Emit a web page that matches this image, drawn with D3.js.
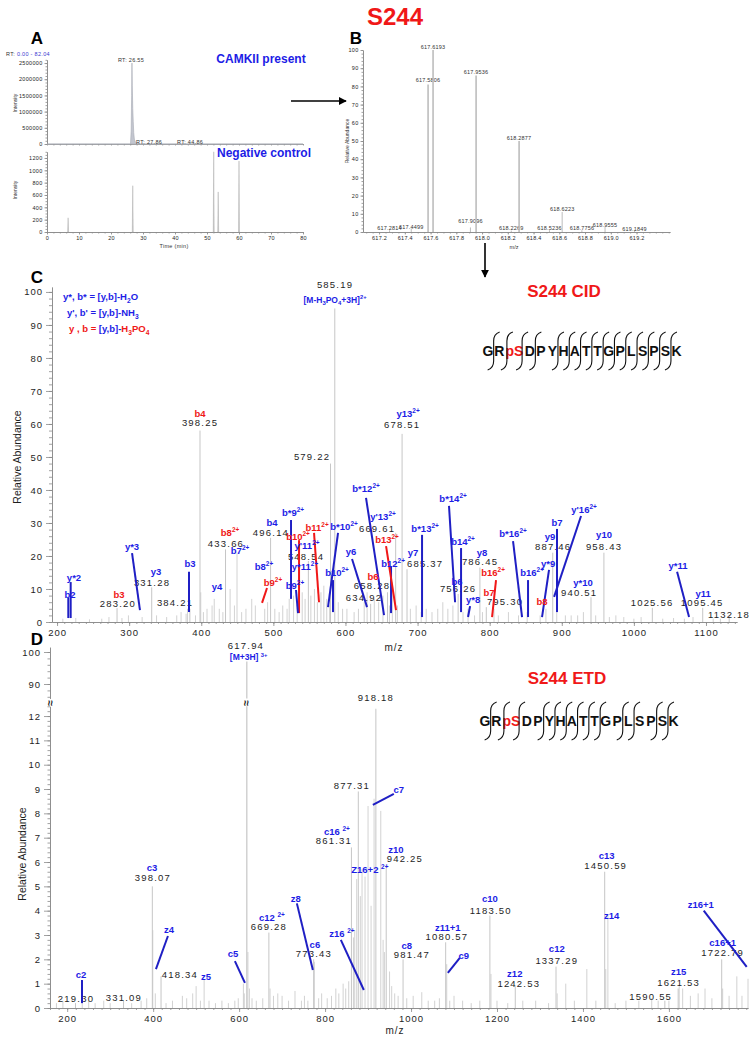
<!DOCTYPE html>
<html><head><meta charset="utf-8">
<script src="https://cdn.jsdelivr.net/npm/d3@7"></script>
<style>body{margin:0;background:#fff}svg{display:block}text{font-family:Arial,"Liberation Sans",Helvetica,sans-serif}</style>
</head><body><svg id="c" width="756" height="1040"></svg>
<script>
// ================= DATA =================
// Panel A – chromatograms
const chromTopTime=[0,25.8,26.1,26.3,26.45,26.55,26.65,26.8,26.95,27.1,27.3,27.6,27.86,28.3,44.86,80];
const chromTopInt=[0,0,20000,400000,1500000,2500000,1800000,1100000,700000,350000,150000,60000,40000,0,0,0];
const chromTopTicks=[0,500000,1000000,1500000,2000000,2500000];
const chromCtrlTime=[6.6,26.8,52.1,53.5,60.0];
const chromCtrlInt=[230,750,1300,650,1150];
const chromCtrlTicks=[0,200,400,600,800,1000,1200];
const timeTicks=[0,10,20,30,40,50,60,70,80];
const rtLabelText=["RT: 26.55","RT: 27.86","RT: 44.86"];
const rtLabelTime=[26.25,31.9,44.7];
const rtLabelInt=[2590000,60000,60000];
// Panel B – isotope envelope
const msMz=[617.2814,617.4499,617.5806,617.6193,617.9096,617.9536,618.2269,618.2877,618.5236,618.6223,618.7756,618.9555,619.1849];
const msInt=[1,2,81,100,2.5,86,0.8,50,1,11,1,3,1];
const msLabelInt=[2.2,2.7,83.5,101.6,6,87.9,2.2,51.6,2.2,12.6,2.2,3.8,1.7];
const msTicksX=[617.2,617.4,617.6,617.8,618.0,618.2,618.4,618.6,618.8,619.0,619.2];
const abTicks=[0,10,20,30,40,50,60,70,80,90,100];
// Panel C – CID spectrum, labelled peaks
const cidPeakText=["585.19","398.25","579.22","678.51","669.61","433.66","496.14","548.54","331.28","283.20","384.21","658.28","634.92","685.37","786.45","756.26","795.30","887.46","958.43","940.51","1025.56","1095.45","1132.18"];
const cidPeakMz=[585.19,398.25,579.22,678.51,669.61,433.66,496.14,548.54,331.28,283.20,384.21,658.28,634.92,685.37,786.45,756.26,795.30,887.46,958.43,940.51,1025.56,1095.45,1132.18];
const cidPeakInt=[95,58,48,57,27,22,25.5,18.5,10.5,4.2,4,9,5.5,16,16.5,8.5,4.5,21,21,7.5,4.3,4.3,1.8];
const cidPeakLabelMz=[585.5,398.3,553.6,678.5,643.8,434.3,496.7,545.3,331.7,284.5,363.6,636.8,625.7,710.4,786.6,756.1,821.3,887.9,958.6,924,1025.2,1094.6,1132];
const cidPeakLabelInt=[102.1,60.3,50,59.7,28.2,23.6,27,19.7,12,5.5,5.8,11,7.3,17.6,18.2,10,6.1,22.7,22.7,8.8,5.8,5.8,2.1];
// Panel C – minor peaks [m/z, %]
const cidMinorMz=[208,226,245,262,272,290,299,318,338,352,366,372,379,381,392,399.3,403,408,415,418,425,430,440,446,449.6,456,462,470,475,488,492,502,508,513,519,522,528,533,540,544,552,557,561,566,570,574,578,590,596,602,612,618,626,630,640,646,652,661,665,672,690,698,705,712,720,728,735,742,749,763,770,779,790,806,812,826,840,852,870,878,893,905,913,922,930,947,966,975,986,1000,1010,1040,1055,1070,1082,1110,1120];
const cidMinorInt=[1,1.2,0.8,1,1.5,1.2,2,1.5,2,1.5,2,3,2.5,4,2,9,3,4,5,7,4,3,10,5,21,3,4,7,5,4,6,4,3,5,4,7,8,6,9,7,8,10,6,9,11,7,5,6,4,4,3,4,6,9,7,6,8,5,12,5,4,5,3,4,3,4,6,4,5,3,4,2,3,4,2,3,2,3,2,4,3,2,2,2,3,2,1.5,2,1.5,1,1.5,1,1.2,1,1.5,1,1];
// Panel C – fragment ion labels (kind "p" = H3PO4 loss, red)
const cidIonText=["y*2","b2","y*3","y3","b3","b3","y4","b4","b8^2+","b4","b7^2+","b8^2+","b9^2+","b*9^2+","b10^2+","b11^2+","y'11^2+","y*11^2+","b9^2+","b*10^2+","b10^2+","y6","b6","b*12^2+","y'13^2+","b12^2+","b13^2+","y7","b*13^2+","b*14^2+","b14^2+","b6","y8","y*8","b16^2+","b7","b*16^2+","b16^2+","y*9","b8","b7","y9","y'16^2+","y10","y*10","y*11","y11","y13^2+"];
const cidIonKind=["n","n","n","n","p","n","n","p","p","n","n","n","p","n","p","p","n","n","n","n","n","n","p","n","n","n","p","n","n","n","n","n","n","n","p","p","n","n","n","p","n","n","n","n","n","n","n","n"];
const cidIonMz=[223.5,218,304,337.2,285.9,384.4,421.9,398.3,439.9,498.1,453.8,487,499.5,527.3,534.2,560.6,546.7,543.9,530,598,588.3,607.7,638.2,628.5,652.1,666,657.6,693.7,710.4,749.2,763,754.7,789.4,777,804.7,799.1,832.4,858.8,881,872.6,893.4,883.7,930.9,958.6,929.5,1061.3,1096,686.8];
const cidIonInt=[13.3,8.2,22.7,15.2,8.2,17.6,10.6,63,27,30,21.5,16.7,11.8,33,26,28.5,23,16.7,10.9,29,14.8,21.2,13.6,40.3,31.8,17.6,24.8,20.9,28.2,37.3,24.2,12.1,20.9,6.7,14.8,8.8,26.7,14.8,17.6,6.1,30,25.8,33.9,26.4,11.8,17,8.5,63];
// Panel C – leader lines
const cidLineMz1=[218.9,215.6,304,383,491.2,524.5,535.6,556.4,531.4,589.7,582.7,609.1,628.5,663.2,656.3,706.2,743.6,760.3,772.8,808.8,832.4,853.2,882.3,893.4,926.7,1059.9];
const cidLineInt1=[12.1,7.3,20.9,15.2,10.3,30.9,24.8,27,9.7,27,12.7,19.1,37.6,16.7,23,26.4,35.2,22.4,4.8,12.7,24.5,12.7,15.8,28.2,32.1,15.2];
const cidLineMz2=[218.9,215.6,315,383,484.3,524.5,535.6,563.3,534.2,575.8,582.7,629.9,653.5,663.2,670.1,706.2,752,760.3,770,803.3,844.9,853.2,872.6,893.4,889.3,1076.5];
const cidLineInt2=[1.2,1.2,3.6,3.0,5.8,7,2.7,6,2.7,4.5,3,4.5,2.1,2.7,3.6,1.5,6,3,1.5,1.5,1.5,1.5,1.5,3,7.6,1.5];
const cidLineKind=["n","n","n","n","p","n","p","p","n","n","n","n","n","n","p","n","n","n","n","p","n","n","n","n","n","n"];
const cidTicksX=[200,300,400,500,600,700,800,900,1000,1100];
// Panel D – ETD spectrum, labelled peaks
const etdPeakText=["918.18","877.31","861.31","942.25","398.07","669.28","773.43","418.34","331.09","219.30","981.47","1080.57","1183.50","1337.29","1242.53","1450.59","1621.53","1590.55","1722.79"];
const etdPeakMz=[918.18,877.31,861.31,942.25,398.07,669.28,773.43,418.34,331.09,219.30,981.47,1080.57,1183.50,1337.29,1242.53,1450.59,1621.53,1590.55,1722.79];
const etdPeakInt=[12.3,8.9,6.6,5.9,5.0,3.1,2.0,1.3,0.3,0.2,2.0,2.7,3.8,1.7,0.9,5.6,0.8,0.3,2.0];
const etdPeakLabelMz=[918.1,862.3,820.5,985.6,399.5,669.3,774,462.3,332.1,220.5,1001.9,1083.3,1185.6,1339.1,1250.7,1453,1622.8,1557.7,1725.1];
const etdPeakLabelInt=[12.76,9.14,6.87,6.13,5.35,3.33,2.22,1.36,0.41,0.37,2.18,2.92,3.99,1.93,0.99,5.84,1.03,0.45,2.26];
const etdPrecursorMz=617.94, etdPrecursorInt=97, etdPrecursorLabelMz=616, etdPrecursorLabelInt=101.9;
// Panel D – minor peaks
const etdMinorMz=[175,190,235,250,265,285,300,350,372,385,399.1,405,430,445,468,478,492,500,510,518.6,530,545,560,575,590,598,610,612,620.5,624,630,640,655,672,680,690,700,715,730,745,752,760,775,785,792,805,815,825,832,842,848,855,866,869,873.6,882,886,893,900,907,914,929.6,935,938,950,955,962,970,990,1005,1025,1040,1055,1066,1083,1090,1100,1120,1140,1160,1186,1200,1225,1260,1290,1320,1340,1360,1380,1409,1430,1453,1458,1475,1500,1530,1560,1575,1600,1624,1632,1650,1668,1684,1700,1725,1740,1758,1770,1784];
const etdMinorInt=[0.2,0.3,0.2,0.3,0.2,0.3,0.2,0.2,0.3,0.4,3.2,0.6,0.2,0.3,0.5,0.4,0.6,0.9,0.3,1.15,0.3,0.2,0.3,0.2,0.3,0.4,1.0,0.6,2.3,0.8,0.4,0.3,0.4,0.8,0.5,0.6,0.5,0.3,0.7,0.3,0.5,0.3,1.9,0.4,0.6,0.4,0.5,0.8,0.6,1.0,0.8,1.1,2.9,3.2,5.3,4.6,5.7,5.4,8.3,4.2,8.6,8.1,2.8,2.3,1.5,0.9,0.6,0.5,0.4,0.5,0.65,0.3,0.3,0.4,1.8,0.3,0.5,0.3,0.2,0.3,1.4,0.3,0.2,0.3,0.3,0.2,0.6,1.0,0.3,1.6,0.3,1.6,3.8,0.2,0.3,0.3,0.4,0.3,0.3,0.9,0.8,0.5,0.6,0.8,0.4,0.8,0.5,1.3,0.5,1.2];
// Panel D – fragment ion labels
const etdIonText=["c2","c3","z4","z5","c5","c12 ^2+","z8","c6","c16 ^2+","z16 ^2+","Z16+2 ^2+","c7","z10","c8","z11+1","c9","c10","z12","c12","c13","z14","z15","z16+1","c16+1"];
const etdIonMz=[232.1,397.2,436.7,522.8,585.6,676.3,732.1,776.3,827.4,839.1,904.2,971.6,964.7,990.2,1085.6,1122.8,1183.3,1241.4,1339.1,1455.3,1467,1622.8,1674,1725.1];
const etdIonInt=[1.36,5.76,3.2,1.28,2.22,3.7,4.5,2.6,7.24,3.05,5.68,8.97,6.5,2.55,3.3,2.14,4.49,1.4,2.43,6.26,3.79,1.48,4.24,2.67];
const etdLineMz1=[234.4,434.4,590.2,734.4,836.7,960,1113.5,1681];
const etdLineInt1=[1.15,2.96,1.93,4.3,2.8,8.8,2.06,4.0];
const etdLineMz2=[234.4,406.5,613.5,771.6,890.2,911.2,1085.6,1781];
const etdLineInt2=[0.2,1.6,1.03,1.56,0.74,8.35,1.44,1.69];
const etdTicksX=[200,400,600,800,1000,1200,1400,1600];
const etdTicksLow=[0,1,2,3,4,5,6,7,8,9,10,11,12];
const etdTicksHigh=[90,100];
// Peptide
const peptide=["G","R","pS","D","P","Y","H","A","T","T","G","P","L","S","P","S","K"];
const cidCleave=[0,1,2,3,5,6,7,8,9,10,11,12,13,14,15];
const etdCleave=[0,1,2,4,5,6,7,8,9,11,12,14,15];

// ================= DRAWING =================
const BLUE="#1d1de6", RED="#f01818", GREY="#c6c6c6", AX="#8a8a8a", TXT="#1e1e1e";
const FONT='Arial,"Liberation Sans",Helvetica,sans-serif';
const fmtInt=d3.format("d");
const svg=d3.select("#c");
svg.append("rect").attr("width",756).attr("height",1040).attr("fill","#fff");
const defs=svg.append("defs");
defs.append("marker").attr("id","ah").attr("viewBox","0 0 10 10").attr("refX",9).attr("refY",5)
  .attr("markerWidth",5).attr("markerHeight",5).attr("orient","auto")
  .append("path").attr("d","M0,0L10,5L0,10z").attr("fill","#000");

function rich(g,x,y,spec,o){
  const segs=typeof spec==="string"?[[spec,o.fill]]:spec;
  const t=g.append("text").attr("x",x).attr("y",y).attr("font-size",o.size)
    .attr("font-weight",o.weight||"normal").attr("text-anchor",o.anchor||"middle")
    .attr("dy","0.35em").attr("fill",o.fill||TXT).attr("font-family",FONT);
  if(o.ls) t.attr("letter-spacing",o.ls);
  if(o.rotate) t.attr("transform",`rotate(${o.rotate},${x},${y})`);
  let cur=0;
  segs.forEach(([s,fill])=>{
    let i=0,buf="";
    const emit=(txt,off,sz)=>{ if(!txt) return; const ts=t.append("tspan").text(txt).attr("fill",fill||o.fill||TXT);
      if(off!==cur){ts.attr("dy",off-cur);cur=off;} if(sz) ts.attr("font-size",sz); };
    while(i<s.length){const c=s[i];
      if(c==="_"){emit(buf,0);buf="";emit(s[i+1],o.size*0.3,o.size*0.7);i+=2;}
      else if(c==="^"){emit(buf,0);buf="";emit(s.slice(i+1),-o.size*0.42,o.size*0.68);i=s.length;}
      else{buf+=c;i++;}}
    emit(buf,0);
  });
  return t;
}
function styleAxis(g,size,ls){
  g.attr("font-family",FONT).attr("font-size",size);
  g.selectAll("path,line").attr("stroke",AX).attr("stroke-width",0.8);
  g.selectAll("text").attr("fill",TXT);
  if(ls) g.selectAll("text").attr("letter-spacing",ls);
}
function seg(g,x1,y1,x2,y2,color,w){
  g.append("line").attr("x1",x1).attr("y1",y1).attr("x2",x2).attr("y2",y2)
   .attr("stroke",color).attr("stroke-width",w).attr("stroke-linecap","butt");
}

// ---------- Panel A ----------
const xA=d3.scaleLinear().domain([0,80]).range([47,303]);
const yA1=d3.scaleLinear().domain([0,2600000]).range([144,59.8]);
const yA2=d3.scaleLinear().domain([0,1300]).range([232,151.8]);
const gA=svg.append("g");
[[yA1,chromTopTicks,100000,2600000],[yA2,chromCtrlTicks,50,1300]].forEach(([ys,tk,step,mx])=>{
  const mi=gA.append("g").attr("transform",`translate(${xA(0)},0)`).call(d3.axisLeft(ys).tickValues(d3.range(0,mx+1,step)).tickFormat("").tickSize(1.5).tickSizeOuter(0));
  styleAxis(mi,5.5);
  const ma=gA.append("g").attr("transform",`translate(${xA(0)},0)`).call(d3.axisLeft(ys).tickValues(tk).tickFormat(fmtInt).tickSize(2.5).tickSizeOuter(0).tickPadding(2));
  styleAxis(ma,5.5,0.3);
});
const xAt=gA.append("g").attr("transform",`translate(0,${yA1(0)})`).call(d3.axisBottom(xA).tickValues(d3.range(0,81,2)).tickFormat("").tickSize(1.5).tickSizeOuter(0));
styleAxis(xAt,5.5);
const xAbm=gA.append("g").attr("transform",`translate(0,${yA2(0)})`).call(d3.axisBottom(xA).tickValues(d3.range(0,81,2)).tickFormat("").tickSize(1.5).tickSizeOuter(0));
styleAxis(xAbm,5.5);
const xAb=gA.append("g").attr("transform",`translate(0,${yA2(0)})`).call(d3.axisBottom(xA).tickValues(timeTicks).tickFormat(fmtInt).tickSize(2.5).tickSizeOuter(0).tickPadding(2));
styleAxis(xAb,5.5,0.3);
const topPts=chromTopTime.map((t,i)=>[t,chromTopInt[i]]);
gA.append("path").datum(topPts).attr("fill","#c3c6cf").attr("stroke","#a6a9b4").attr("stroke-width",0.6)
  .attr("d",d3.area().x(d=>xA(d[0])).y0(yA1(0)).y1(d=>yA1(d[1])));
chromCtrlTime.forEach((t,i)=>{
  gA.append("path").attr("fill","#c4c4c4").attr("stroke","#b0b0b0").attr("stroke-width",0.5)
   .attr("d",`M${xA(t-0.15)},${yA2(0)}L${xA(t)},${yA2(chromCtrlInt[i])}L${xA(t+0.15)},${yA2(0)}Z`);
});
rtLabelText.forEach((s,i)=>rich(gA,xA(rtLabelTime[i]),yA1(rtLabelInt[i]),s,{size:5.5,ls:0.3,fill:"#333"}));
rich(gA,6,54,[["RT: ","#333"],["0.00 - 82.04","#3a3ad0"]],{size:5.5,anchor:"start",ls:0.3});
rich(gA,15,103,"Intensity",{size:5,rotate:-90,fill:"#333"});
rich(gA,15,190,"Intensity",{size:5,rotate:-90,fill:"#333"});
rich(gA,174,246,"Time (min)",{size:5.5,fill:"#333",ls:0.3});
rich(gA,37,38,"A",{size:17,weight:"bold",fill:"#000"});
rich(gA,261,59,"CAMKII present",{size:12,weight:"bold",fill:BLUE});
rich(gA,264,153,"Negative control",{size:12,weight:"bold",fill:BLUE});
// arrow A -> B
svg.append("line").attr("x1",291).attr("y1",101).attr("x2",346).attr("y2",101).attr("stroke","#000").attr("stroke-width",1.6).attr("marker-end","url(#ah)");

// ---------- Panel B ----------
const xB=d3.scaleLinear().domain([617.075,619.46]).range([363,670]);
const yB=d3.scaleLinear().domain([0,100]).range([232,50]);
const gB=svg.append("g");
const bmi=gB.append("g").attr("transform",`translate(${xB.range()[0]},0)`).call(d3.axisLeft(yB).tickValues(d3.range(0,101,2)).tickFormat("").tickSize(1.5).tickSizeOuter(0));
styleAxis(bmi,5.5);
const bma=gB.append("g").attr("transform",`translate(${xB.range()[0]},0)`).call(d3.axisLeft(yB).tickValues(abTicks).tickFormat(fmtInt).tickSize(2.5).tickSizeOuter(0).tickPadding(2));
styleAxis(bma,5.5,0.3);
const bxm=gB.append("g").attr("transform",`translate(0,${yB(0)})`).call(d3.axisBottom(xB).tickValues(d3.range(617.1,619.46,0.05)).tickFormat("").tickSize(1.5).tickSizeOuter(0));
styleAxis(bxm,5.5);
const bx=gB.append("g").attr("transform",`translate(0,${yB(0)})`).call(d3.axisBottom(xB).tickValues(msTicksX).tickFormat(d3.format(".1f")).tickSize(2.5).tickSizeOuter(0).tickPadding(2));
styleAxis(bx,5.5,0.3);
msMz.forEach((m,i)=>{
  seg(gB,xB(m),yB(0),xB(m),yB(msInt[i]),"#bdbdbd",msInt[i]>40?1.6:1);
  rich(gB,xB(m),yB(msLabelInt[i]),m.toFixed(4),{size:5.5,fill:"#333",ls:0.2});
});
rich(gB,514,247,"m/z",{size:5.5,fill:"#333"});
rich(gB,347,141,"Relative Abundance",{size:5,rotate:-90,fill:"#333"});
rich(gB,356,38,"B",{size:17,weight:"bold",fill:"#000"});
rich(svg,395,17,"S244",{size:24,weight:"bold",fill:RED});
// arrow B -> C
svg.append("line").attr("x1",485).attr("y1",243).attr("x2",485).attr("y2",277).attr("stroke","#000").attr("stroke-width",1.6).attr("marker-end","url(#ah)");

// ---------- Peptide drawing ----------
function peptideDraw(g,x0,yc,cleave){
  const xs=[];let x=x0;
  peptide.forEach((r,i)=>{ if(i>0){ x+= (r==="pS"||peptide[i-1]==="pS")?15.2:11.3; } xs.push(x); });
  peptide.forEach((r,i)=>rich(g,xs[i],yc,r,{size:14,weight:"bold",fill:r==="pS"?RED:"#111"}));
  cleave.forEach(k=>{
    const bx=(xs[k]+xs[k+1])/2;
    g.append("path").attr("fill","none").attr("stroke","#111").attr("stroke-width",1.1)
     .attr("d",`M${bx+6},${yc-19}Q${bx},${yc-17} ${bx},${yc-10}L${bx},${yc+10}Q${bx},${yc+17} ${bx-6},${yc+19}`);
  });
}

// ---------- Panel C ----------
const xC=d3.scaleLinear().domain([193,1143]).range([52,737]);
const yC=d3.scaleLinear().domain([0,101.5]).range([622,287]);
const gC=svg.append("g");
const cym=gC.append("g").attr("transform",`translate(${xC(193)},0)`).call(d3.axisLeft(yC).tickValues(d3.range(0,101,2)).tickFormat("").tickSize(3).tickSizeOuter(0));
styleAxis(cym,9.5);
const cy=gC.append("g").attr("transform",`translate(${xC(193)},0)`).call(d3.axisLeft(yC).tickValues(abTicks).tickFormat(fmtInt).tickSize(6).tickSizeOuter(0).tickPadding(3));
styleAxis(cy,9.5,1);
const cxm=gC.append("g").attr("transform",`translate(0,${yC(0)})`).call(d3.axisBottom(xC).tickValues(d3.range(200,1141,10)).tickFormat("").tickSize(2).tickSizeOuter(0));
styleAxis(cxm,9.5);
const cx=gC.append("g").attr("transform",`translate(0,${yC(0)})`).call(d3.axisBottom(xC).tickValues(cidTicksX).tickFormat(fmtInt).tickSize(4).tickSizeOuter(0).tickPadding(3));
styleAxis(cx,9.5,1);
cidMinorMz.forEach((m,i)=>seg(gC,xC(m),yC(0),xC(m),yC(cidMinorInt[i]),GREY,0.8));
cidPeakMz.forEach((m,i)=>seg(gC,xC(m),yC(0),xC(m),yC(cidPeakInt[i]),GREY,1));
cidPeakText.forEach((s,i)=>rich(gC,xC(cidPeakLabelMz[i]),yC(cidPeakLabelInt[i]),s,{size:9.5,ls:1.2,fill:TXT}));
rich(gC,xC(585.5),yC(97.6),"[M-H_3PO_4+3H]^2+",{size:8.5,weight:"bold",fill:BLUE});
cidLineMz1.forEach((m,i)=>seg(gC,xC(m),yC(cidLineInt1[i]),xC(cidLineMz2[i]),yC(cidLineInt2[i]),cidLineKind[i]==="p"?RED:"#1f1fc4",2));
cidIonText.forEach((s,i)=>rich(gC,xC(cidIonMz[i]),yC(cidIonInt[i]),s,{size:9.5,weight:"bold",fill:cidIonKind[i]==="p"?RED:BLUE}));
rich(gC,63,297,"y*, b* = [y,b]-H_2O",{size:9.5,weight:"bold",fill:BLUE,anchor:"start"});
rich(gC,67,313,"y', b' = [y,b]-NH_3",{size:9.5,weight:"bold",fill:BLUE,anchor:"start"});
rich(gC,69,329,[["y , b = ",RED],["[y,b]-",BLUE],["H_3PO_4",RED]],{size:9.5,weight:"bold",anchor:"start"});
rich(gC,17,457,"Relative Abundance",{size:10.5,rotate:-90,fill:TXT});
rich(gC,394,647,"m/z",{size:10,fill:TXT,ls:1});
rich(gC,37,277,"C",{size:17,weight:"bold",fill:"#000"});
rich(gC,564,291,"S244 CID",{size:17,weight:"bold",fill:RED});
peptideDraw(gC,488,351,cidCleave);

// ---------- Panel D ----------
const xD=d3.scaleLinear().domain([160,1784]).range([50,748]);
const yDlo=d3.scaleLinear().domain([0,12.4]).range([1008,706.3]);
const yDhi=d3.scaleLinear().domain([85.5,101.5]).range([698.4,647.2]);
const gD=svg.append("g");
const dym=gD.append("g").attr("transform",`translate(${xD(160)},0)`).call(d3.axisLeft(yDlo).tickValues(d3.range(0,12.41,0.2)).tickFormat("").tickSize(2.5).tickSizeOuter(0));
styleAxis(dym,9.5);
const dy=gD.append("g").attr("transform",`translate(${xD(160)},0)`).call(d3.axisLeft(yDlo).tickValues(etdTicksLow).tickFormat(fmtInt).tickSize(6).tickSizeOuter(0).tickPadding(3));
styleAxis(dy,9.5,1);
const dym2=gD.append("g").attr("transform",`translate(${xD(160)},0)`).call(d3.axisLeft(yDhi).tickValues(d3.range(86,101.5,2)).tickFormat("").tickSize(2.5).tickSizeOuter(0));
styleAxis(dym2,9.5);
const dy2=gD.append("g").attr("transform",`translate(${xD(160)},0)`).call(d3.axisLeft(yDhi).tickValues(etdTicksHigh).tickFormat(fmtInt).tickSize(6).tickSizeOuter(0).tickPadding(3));
styleAxis(dy2,9.5,1);
const dxm=gD.append("g").attr("transform",`translate(0,${yDlo(0)})`).call(d3.axisBottom(xD).tickValues(d3.range(160,1784,20)).tickFormat("").tickSize(2).tickSizeOuter(0));
styleAxis(dxm,9.5);
const dx=gD.append("g").attr("transform",`translate(0,${yDlo(0)})`).call(d3.axisBottom(xD).tickValues(etdTicksX).tickFormat(fmtInt).tickSize(4).tickSizeOuter(0).tickPadding(3));
styleAxis(dx,9.5,1);
etdMinorMz.forEach((m,i)=>seg(gD,xD(m),yDlo(0),xD(m),yDlo(etdMinorInt[i]),GREY,0.8));
etdPeakMz.forEach((m,i)=>seg(gD,xD(m),yDlo(0),xD(m),yDlo(etdPeakInt[i]),GREY,1));
// precursor with broken axis
seg(gD,xD(etdPrecursorMz),yDlo(0),xD(etdPrecursorMz),yDlo(12.4),GREY,1.2);
seg(gD,xD(etdPrecursorMz),yDhi(85.5),xD(etdPrecursorMz),yDhi(etdPrecursorInt),GREY,1.2);
[xD(160),xD(etdPrecursorMz)].forEach(bxp=>rich(gD,bxp,(yDlo(12.4)+yDhi(85.5))/2+1,"≈",{size:10,weight:"bold",fill:"#111",rotate:90}));
rich(gD,xD(etdPrecursorLabelMz),yDhi(etdPrecursorLabelInt),"617.94",{size:9.5,ls:1.2,fill:TXT});
rich(gD,xD(622),yDhi(98.4),"[M+3H] ^3+",{size:8.5,weight:"bold",fill:BLUE});
etdPeakText.forEach((s,i)=>rich(gD,xD(etdPeakLabelMz[i]),yDlo(etdPeakLabelInt[i]),s,{size:9.5,ls:1.2,fill:TXT}));
etdLineMz1.forEach((m,i)=>seg(gD,xD(m),yDlo(etdLineInt1[i]),xD(etdLineMz2[i]),yDlo(etdLineInt2[i]),"#1f1fc4",2));
etdIonText.forEach((s,i)=>rich(gD,xD(etdIonMz[i]),yDlo(etdIonInt[i]),s,{size:9.5,weight:"bold",fill:BLUE}));
rich(gD,22,854,"Relative Abundance",{size:10.5,rotate:-90,fill:TXT});
rich(gD,395,1030,"m/z",{size:10,fill:TXT,ls:1});
rich(gD,37,639,"D",{size:17,weight:"bold",fill:"#000"});
rich(gD,567,678,"S244 ETD",{size:17,weight:"bold",fill:RED});
peptideDraw(gD,485,721,etdCleave);
</script></body></html>
